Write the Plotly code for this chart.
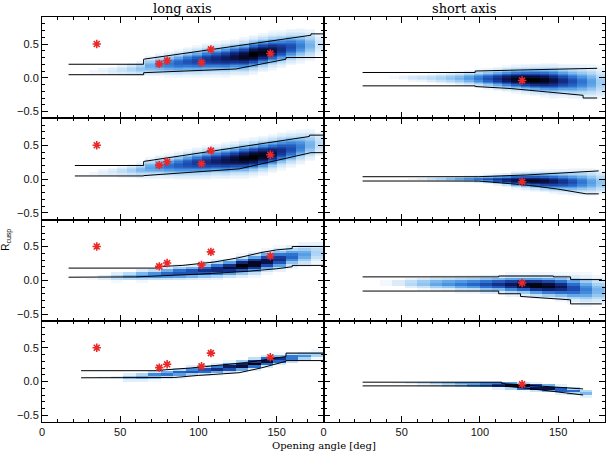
import numpy as np
import plotly.graph_objects as go
from plotly.subplots import make_subplots

# ---------------- data ----------------
# column bins for rows 1-2 (6 deg) and rows 3-4 (8 deg)
XB_FINE = [33, 39, 45, 51, 57, 63, 69, 75, 81, 87, 93, 99, 105, 111, 117, 123, 129, 135, 141, 147, 153, 159, 165, 171, 177]
XB_COARSE = [24, 32, 40, 48, 56, 64, 72, 80, 88, 96, 104, 112, 120, 128, 136, 144, 152, 160, 168, 176]

# density ridge (centre), spread and peak per column bin
L1_center = [0.09, 0.10, 0.10, 0.11, 0.12, 0.13, 0.17, 0.19, 0.20, 0.21, 0.23, 0.24, 0.26, 0.27, 0.28, 0.30, 0.31, 0.34, 0.37, 0.40, 0.42, 0.45, 0.47, 0.48, 0.49]
L1_sigma = [0.03, 0.035, 0.04, 0.045, 0.05, 0.055, 0.07, 0.075, 0.08, 0.085, 0.09, 0.095, 0.1, 0.1, 0.105, 0.105, 0.11, 0.11, 0.11, 0.11, 0.11, 0.11, 0.11, 0.11, 0.1]
L1_peak = [0.04, 0.06, 0.09, 0.13, 0.18, 0.24, 0.32, 0.4, 0.47, 0.53, 0.58, 0.63, 0.68, 0.74, 0.8, 0.86, 0.93, 1.0, 0.95, 0.85, 0.72, 0.6, 0.45, 0.3, 0.12]

L2_center = [0.08, 0.09, 0.10, 0.11, 0.12, 0.13, 0.16, 0.18, 0.19, 0.20, 0.215, 0.23, 0.245, 0.26, 0.27, 0.285, 0.30, 0.32, 0.345, 0.375, 0.41, 0.44, 0.47, 0.50, 0.52]
L2_sigma = [0.03, 0.035, 0.04, 0.045, 0.05, 0.055, 0.07, 0.075, 0.08, 0.085, 0.09, 0.095, 0.1, 0.1, 0.105, 0.105, 0.11, 0.11, 0.11, 0.11, 0.11, 0.11, 0.11, 0.11, 0.1]
L2_peak = [0.04, 0.07, 0.1, 0.15, 0.21, 0.28, 0.35, 0.42, 0.49, 0.55, 0.61, 0.67, 0.72, 0.78, 0.84, 0.9, 0.97, 1.0, 0.95, 0.85, 0.72, 0.6, 0.45, 0.3, 0.15]

L3_center = [0.03, 0.035, 0.04, 0.05, 0.06, 0.07, 0.08, 0.095, 0.11, 0.12, 0.14, 0.16, 0.18, 0.21, 0.24, 0.28, 0.31, 0.35, 0.38, 0.41]
L3_sigma = [0.02, 0.025, 0.03, 0.035, 0.035, 0.04, 0.04, 0.045, 0.05, 0.05, 0.055, 0.06, 0.06, 0.065, 0.07, 0.07, 0.075, 0.075, 0.08, 0.08]
L3_peak = [0.0, 0.04, 0.1, 0.2, 0.3, 0.38, 0.45, 0.52, 0.58, 0.63, 0.7, 0.78, 0.87, 1.0, 0.97, 0.88, 0.72, 0.52, 0.36, 0.2]

L4_center = [0.05, 0.05, 0.05, 0.055, 0.06, 0.07, 0.09, 0.11, 0.13, 0.15, 0.165, 0.185, 0.21, 0.235, 0.265, 0.30, 0.33, 0.36, 0.38, 0.40]
L4_sigma = [0.02, 0.02, 0.02, 0.022, 0.025, 0.027, 0.03, 0.03, 0.032, 0.034, 0.035, 0.036, 0.037, 0.038, 0.038, 0.038, 0.036, 0.035, 0.033, 0.03]
L4_peak = [0.0, 0.0, 0.03, 0.08, 0.25, 0.35, 0.45, 0.5, 0.55, 0.6, 0.65, 0.72, 0.82, 0.95, 1.0, 0.88, 0.72, 0.55, 0.4, 0.25]

S1_center = [0.0, 0.0, 0.0, 0.0, -0.005, -0.005, -0.01, -0.01, -0.01, -0.012, -0.012, -0.015, -0.018, -0.02, -0.022, -0.025, -0.03, -0.035, -0.04, -0.045, -0.05, -0.06, -0.065, -0.07, -0.075]
S1_sigma = [0.02, 0.02, 0.025, 0.025, 0.03, 0.03, 0.035, 0.04, 0.045, 0.05, 0.055, 0.06, 0.065, 0.07, 0.075, 0.08, 0.085, 0.09, 0.095, 0.1, 0.1, 0.105, 0.11, 0.115, 0.12]
S1_peak = [0.0, 0.0, 0.03, 0.06, 0.1, 0.13, 0.16, 0.2, 0.25, 0.3, 0.38, 0.48, 0.6, 0.72, 0.85, 0.95, 1.0, 1.0, 0.95, 0.85, 0.72, 0.6, 0.48, 0.36, 0.22]

S2_center = [0.0, 0.0, 0.0, 0.0, 0.0, 0.0, 0.0, 0.0, 0.0, 0.0, 0.0, -0.002, -0.005, -0.01, -0.015, -0.02, -0.025, -0.03, -0.035, -0.04, -0.045, -0.05, -0.05, -0.055, -0.055]
S2_sigma = [0.015, 0.015, 0.015, 0.015, 0.015, 0.015, 0.017, 0.018, 0.019, 0.02, 0.022, 0.025, 0.03, 0.035, 0.04, 0.05, 0.055, 0.06, 0.065, 0.07, 0.075, 0.08, 0.085, 0.09, 0.09]
S2_peak = [0.0, 0.0, 0.0, 0.0, 0.05, 0.1, 0.16, 0.22, 0.3, 0.38, 0.45, 0.52, 0.6, 0.7, 0.78, 0.85, 0.9, 0.92, 0.88, 0.8, 0.7, 0.6, 0.48, 0.36, 0.25]

S3_center = [-0.04, -0.04, -0.04, -0.04, -0.045, -0.045, -0.05, -0.05, -0.055, -0.055, -0.06, -0.06, -0.065, -0.07, -0.08, -0.09, -0.1, -0.12, -0.14, -0.15]
S3_sigma = [0.02, 0.025, 0.03, 0.035, 0.04, 0.045, 0.05, 0.05, 0.055, 0.055, 0.06, 0.06, 0.065, 0.065, 0.07, 0.075, 0.08, 0.09, 0.1, 0.1]
S3_peak = [0.0, 0.0, 0.04, 0.1, 0.18, 0.26, 0.34, 0.4, 0.46, 0.52, 0.6, 0.7, 0.82, 0.95, 1.0, 0.95, 0.82, 0.62, 0.45, 0.3]

S4_center = [-0.02, -0.02, -0.02, -0.02, -0.025, -0.03, -0.03, -0.035, -0.035, -0.04, -0.04, -0.045, -0.055, -0.07, -0.085, -0.1, -0.12, -0.14, -0.17, -0.19]
S4_sigma = [0.015, 0.015, 0.015, 0.017, 0.018, 0.02, 0.02, 0.021, 0.022, 0.022, 0.023, 0.024, 0.025, 0.026, 0.027, 0.028, 0.028, 0.028, 0.028, 0.028]
S4_peak = [0.0, 0.0, 0.0, 0.03, 0.08, 0.15, 0.25, 0.35, 0.45, 0.55, 0.65, 0.8, 0.95, 1.0, 0.95, 0.85, 0.7, 0.5, 0.3, 0.0]

# percentile lines (x, y)
L1_up_x = [17, 65, 65, 172, 172, 180]; L1_up_y = [0.2, 0.2, 0.275, 0.63, 0.65, 0.65]
L1_lo_x = [17, 65, 65, 124, 156, 156, 180]; L1_lo_y = [0.045, 0.045, 0.075, 0.13, 0.275, 0.30, 0.30]
L2_up_x = [21, 65, 65, 171, 171, 180]; L2_up_y = [0.2, 0.2, 0.26, 0.63, 0.65, 0.65]
L2_lo_x = [21, 65, 65, 126, 172, 172, 180]; L2_lo_y = [0.045, 0.045, 0.05, 0.15, 0.38, 0.39, 0.39]
L3_up_x = [17, 73, 73, 90, 110, 125, 140, 150, 160, 160, 180]; L3_up_y = [0.18, 0.18, 0.2, 0.22, 0.27, 0.33, 0.41, 0.45, 0.47, 0.5, 0.5]
L3_lo_x = [17, 60, 100, 130, 150, 160, 160, 180]; L3_lo_y = [0.045, 0.05, 0.09, 0.13, 0.17, 0.2, 0.22, 0.22]
L4_up_x = [25, 77, 77, 95, 115, 130, 145, 156, 156, 180]; L4_up_y = [0.16, 0.16, 0.17, 0.2, 0.24, 0.28, 0.33, 0.37, 0.42, 0.42]
L4_lo_x = [25, 85, 100, 126, 140, 150, 156, 156, 180]; L4_lo_y = [0.055, 0.06, 0.09, 0.13, 0.2, 0.26, 0.3, 0.31, 0.31]
S1_up_x = [25, 97, 97, 130, 150, 175]; S1_up_y = [0.078, 0.078, 0.1, 0.12, 0.13, 0.14]
S1_lo_x = [25, 97, 97, 120, 145, 166, 166, 175]; S1_lo_y = [-0.12, -0.12, -0.13, -0.16, -0.21, -0.26, -0.3, -0.3]
S2_up_x = [25, 99, 130, 150, 172, 176]; S2_up_y = [0.034, 0.034, 0.06, 0.09, 0.12, 0.12]
S2_lo_x = [25, 99, 130, 150, 168, 176]; S2_lo_y = [-0.03, -0.03, -0.09, -0.15, -0.22, -0.22]
S3_up_x = [25, 112, 112, 147, 147, 158, 158, 178]; S3_up_y = [0.05, 0.05, 0.063, 0.063, 0.05, 0.05, 0.01, 0.01]
S3_lo_x = [25, 112, 112, 126, 126, 147, 158, 158, 178]; S3_lo_y = [-0.16, -0.16, -0.2, -0.2, -0.24, -0.27, -0.29, -0.35, -0.35]
S4_up_x = [25, 114, 114, 137, 166]; S4_up_y = [-0.01, -0.01, -0.03, -0.07, -0.11]
S4_lo_x = [25, 114, 130, 150, 166]; S4_lo_y = [-0.065, -0.065, -0.1, -0.15, -0.2]

# observed systems (red asterisks)
OBS_LONG_X = [35, 75, 80, 102, 108, 146]
OBS_LONG_Y = [0.5, 0.205, 0.255, 0.225, 0.42, 0.36]
OBS_SHORT_X = [127]
OBS_SHORT_Y = [-0.04]

# ---------------- figure ----------------
COLORSCALE = [
    [0.0, "rgb(255,255,255)"], [0.06, "rgb(230,241,251)"], [0.2, "rgb(168,210,244)"],
    [0.35, "rgb(90,162,230)"], [0.5, "rgb(40,108,205)"], [0.65, "rgb(24,60,158)"],
    [0.82, "rgb(12,22,85)"], [1.0, "rgb(0,0,0)"]]
RED = "rgb(235,40,40)"

fig = make_subplots(rows=4, cols=2, horizontal_spacing=0, vertical_spacing=0)

panels = [
    (1, 1, XB_FINE, L1_center, L1_sigma, L1_peak, 0.02, L1_up_x, L1_up_y, L1_lo_x, L1_lo_y, True),
    (1, 2, XB_FINE, S1_center, S1_sigma, S1_peak, 0.02, S1_up_x, S1_up_y, S1_lo_x, S1_lo_y, False),
    (2, 1, XB_FINE, L2_center, L2_sigma, L2_peak, 0.02, L2_up_x, L2_up_y, L2_lo_x, L2_lo_y, True),
    (2, 2, XB_FINE, S2_center, S2_sigma, S2_peak, 0.02, S2_up_x, S2_up_y, S2_lo_x, S2_lo_y, False),
    (3, 1, XB_COARSE, L3_center, L3_sigma, L3_peak, 0.04, L3_up_x, L3_up_y, L3_lo_x, L3_lo_y, True),
    (3, 2, XB_COARSE, S3_center, S3_sigma, S3_peak, 0.04, S3_up_x, S3_up_y, S3_lo_x, S3_lo_y, False),
    (4, 1, XB_COARSE, L4_center, L4_sigma, L4_peak, 0.04, L4_up_x, L4_up_y, L4_lo_x, L4_lo_y, True),
    (4, 2, XB_COARSE, S4_center, S4_sigma, S4_peak, 0.04, S4_up_x, S4_up_y, S4_lo_x, S4_lo_y, False),
]

for (r, c, xb, cen, sig, pk, dy, ux, uy, lx, ly, is_long) in panels:
    yc = np.arange(-0.6 + dy / 2, 0.9, dy)
    cen_a, sig_a, pk_a = np.array(cen), np.array(sig), np.array(pk)
    z = pk_a[None, :] * np.exp(-0.5 * ((yc[:, None] - cen_a[None, :]) / sig_a[None, :]) ** 2)
    z = np.where(z < 0.025, np.nan, z)
    fig.add_trace(go.Heatmap(x=xb, y=yc, z=z, colorscale=COLORSCALE, zmin=0, zmax=1,
                             showscale=False, hoverinfo="skip"), row=r, col=c)
    fig.add_trace(go.Scatter(x=ux, y=uy, mode="lines", line=dict(color="black", width=1),
                             showlegend=False, hoverinfo="skip"), row=r, col=c)
    fig.add_trace(go.Scatter(x=lx, y=ly, mode="lines", line=dict(color="black", width=1),
                             showlegend=False, hoverinfo="skip"), row=r, col=c)
    ox, oy = (OBS_LONG_X, OBS_LONG_Y) if is_long else (OBS_SHORT_X, OBS_SHORT_Y)
    fig.add_trace(go.Scatter(x=ox, y=oy, mode="markers",
                             marker=dict(symbol="asterisk-open", size=7, color=RED,
                                         line=dict(color=RED, width=1.6)),
                             showlegend=False, hoverinfo="skip"), row=r, col=c)

tickfont = dict(family="Liberation Sans, Arial, sans-serif", size=11, color="#111")
for r in range(1, 5):
    for c in range(1, 3):
        fig.update_xaxes(range=[0, 180], tickvals=[0, 50, 100, 150], ticks="inside", ticklen=6,
                         tickwidth=1, tickcolor="black",
                         minor=dict(dtick=10, ticks="inside", ticklen=3, tickcolor="black"),
                         showline=True, linecolor="black", linewidth=1, mirror="allticks",
                         showgrid=False, zeroline=False, showticklabels=(r == 4),
                         tickfont=tickfont, row=r, col=c)
        fig.update_yaxes(range=[-0.6, 0.9], tickvals=[-0.5, 0.0, 0.5], tickformat=".1f",
                         ticks="inside", ticklen=6, tickwidth=1, tickcolor="black",
                         minor=dict(dtick=0.1, tick0=0, ticks="inside", ticklen=3, tickcolor="black"),
                         showline=True, linecolor="black", linewidth=1, mirror="allticks",
                         showgrid=False, zeroline=False, showticklabels=(c == 1),
                         tickfont=tickfont, row=r, col=c)

serif = "DejaVu Serif, Liberation Serif, serif"
fig.update_layout(
    width=609, height=453, margin=dict(l=42, r=4, t=17, b=31),
    paper_bgcolor="white", plot_bgcolor="white", showlegend=False,
    annotations=[
        dict(text="long axis", x=0.25, y=1.022, xref="paper", yref="paper", showarrow=False,
             xanchor="center", yanchor="middle", font=dict(family=serif, size=13, color="black")),
        dict(text="short axis", x=0.75, y=1.022, xref="paper", yref="paper", showarrow=False,
             xanchor="center", yanchor="middle", font=dict(family=serif, size=13, color="black")),
        dict(text="Opening angle [deg]", x=0.5, y=-0.059, xref="paper", yref="paper", showarrow=False,
             xanchor="center", yanchor="middle", font=dict(family=serif, size=10, color="black")),
        dict(text="R<sub>cusp</sub>", x=-0.062, y=0.45, xref="paper", yref="paper", showarrow=False,
             textangle=-90, xanchor="center", yanchor="middle",
             font=dict(family="Liberation Sans, Arial, sans-serif", size=10, color="black")),
    ],
)

fig.write_html("out.html")
